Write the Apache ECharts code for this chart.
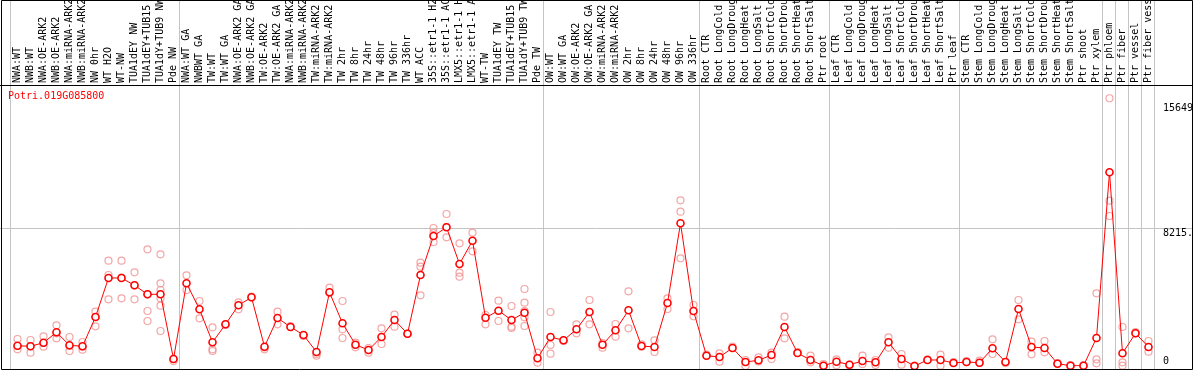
<!DOCTYPE html>
<html><head><meta charset="utf-8">
<script src="https://cdn.jsdelivr.net/npm/echarts@6/dist/echarts.min.js"></script>
<style>html,body{margin:0;padding:0;background:#fff}#c{width:1194px;height:370px}</style>
</head><body><div id="c"></div>
<script>
const geneName = 'Potri.019G085800';
const categories = [
 'NWA:WT','NWB:WT','NWA:OE-ARK2','NWB:OE-ARK2','NWA:miRNA-ARK2','NWB:miRNA-ARK2','NW 0hr','WT H2O','WT-NW','TUA1dEY NW','TUA1dEY+TUB15 NW','TUA1dY+TUB9 NW','Pde NW',
 'NWA:WT GA','NWBWT GA','TW:WT','TW:WT GA','NWA:OE-ARK2 GA','NWB:OE-ARK2 GA','TW:OE-ARK2','TW:OE-ARK2 GA','NWA:miRNA-ARK2 GA','NWB:miRNA-ARK2 GA','TW:miRNA-ARK2','TW:miRNA-ARK2 GA',
 'TW 2hr','TW 8hr','TW 24hr','TW 48hr','TW 96hr','TW 336hr','WT ACC','35S::etr1-1 H2O','35S::etr1-1 ACC','LMX5::etr1-1 H2O','LMX5::etr1-1 ACC','WT-TW','TUA1dEY TW','TUA1dEY+TUB15 TW','TUA1dY+TUB9 TW','Pde TW',
 'OW:WT','OW:WT GA','OW:OE-ARK2','OW:OE-ARK2 GA','OW:miRNA-ARK2','OW:miRNA-ARK2 GA','OW 2hr','OW 8hr','OW 24hr','OW 48hr','OW 96hr','OW 336hr',
 'Root CTR','Root LongCold','Root LongDrought','Root LongHeat','Root LongSalt','Root ShortCold','Root ShortDrought','Root ShortHeat','Root ShortSalt','Ptr root',
 'Leaf CTR','Leaf LongCold','Leaf LongDrought','Leaf LongHeat','Leaf LongSalt','Leaf ShortCold','Leaf ShortDrought','Leaf ShortHeat','Leaf ShortSalt','Ptr leaf',
 'Stem CTR','Stem LongCold','Stem LongDrought','Stem LongHeat','Stem LongSalt','Stem ShortCold','Stem ShortDrought','Stem ShortHeat','Stem ShortSalt','Ptr shoot','Ptr xylem',
 'Ptr phloem','Ptr fiber','Ptr vessel','Ptr fiber vessel'
];
const meanValues = [
 1210,1175,1390,2011,1235,1175,2924,5251,5251,4815,
 4278,4278,418,4935,3383,1414,2488,3622,4099,1152,
 2864,2327,1850,835,4398,2548,1271,955,1730,2745,
 1927,5430,7757,8276,6086,7477,2882,3300,2745,3180,
 459,1730,1534,2190,3222,1271,2130,3324,1193,1134,
 3759,8515,3282,615,537,1074,239,340,656,2327,
 776,358,18,257,78,298,221,1414,418,0,
 358,358,179,239,197,1056,239,3401,1134,1074,
 137,18,18,1671,11558,758,1951,1134
];
const replicateValues = [
 [1611,997,1193],[1551,794,1193],[1772,1152,1372],[2429,1653,1951],[1730,895,1193],[1432,973,1152],[3240,2369,2924],[6283,5430,3980],[6283,5269,4040],[5591,3980,4815],
 [6963,3282,2685,4278],[6665,4935,4535,4040,3598,2088],[418,298],[5412,4535],[3879,2846],[2309,997,895],[2488,2446],[3801,3383],[4099,4147],[997,1104],
 [3240,2488],[2327,2387],[1850,1790],[615,716],[4672,4356],[3879,2190,1671],[1390,1116],[1074,794],[2250,1313],[3061,2345],
 [1927,1909],[6164,5925,4219],[8235,7399,7936],[9070,7680,8295],[7322,5567,5329],[7954,6844],[3043,2488],[3896,2685],[3580,2345,2267],[4595,3777,3282,2906,2387],
 [794,197],[3222,1253,734],[1534,1492],[2488,1951],[3938,2488],[1372,1092],[2506,1748],[4457,2250],[1295,1152],[1534,835],
 [4040,3401],[9887,9207,6426],[3640,2966],[615,686],[758,257],[1074,1164],[358,0],[519,269],[794,418],[2942,1653],
 [776,835],[615,221],[18,119],[400,42],[78,30],[615,119],[358,60],[1713,1092],[716,78],[0,18],
 [358,400],[674,18],[179,239],[239,298],[316,179],[1593,716],[239,179],[3938,2787],[1450,698],[1492,817],
 [137,179],[18,60],[18,42],[4338,400,161],[15974,9863,8951],[2327,221,18],[1951,2029],[1492,853]
];
const groupEnds = [13,41,53,63,73,84,85,86,87,88];
const yTickValues = [0, 8215, 15649];
const yTickLabels = ['0', '8215.', '15649'];
const gridLineValue = 8215;
const yMax = 16706;

const labelFor = v => yTickLabels[yTickValues.indexOf(v)];
const scatterData = replicateValues.flatMap((arr, i) => arr.map(v => [i, v]));
const mono = 'DejaVu Sans Mono';

const chart = echarts.init(document.getElementById('c'), null, {renderer: 'canvas'});
const option = {
  animation: false,
  backgroundColor: '#fff',
  title: {text: geneName, left: 8, top: 91, padding: 0, textStyle: {color: '#ff0000', fontSize: 10, fontFamily: mono, fontWeight: 'normal'}},
  grid: {left: 11, right: 39, top: 86, bottom: 4, containLabel: false, outerBoundsMode: 'none'},
  xAxis: {
    type: 'category', data: categories, position: 'top', boundaryGap: true,
    axisLine: {show: false}, axisTick: {show: false}, splitLine: {show: false},
    axisLabel: {interval: 0, rotate: 90, margin: 3, fontSize: 10, fontFamily: mono, color: '#000', hideOverlap: false}
  },
  yAxis: [
    {type: 'value', min: 0, max: yMax, position: 'right', axisLine: {show: false}, axisTick: {show: false}, splitLine: {show: false},
     axisLabel: {customValues: yTickValues.slice(1), formatter: labelFor, margin: 8, verticalAlign: 'top', fontSize: 10, fontFamily: mono, color: '#000'}},
    {type: 'value', min: 0, max: yMax, position: 'right', axisLine: {show: false}, axisTick: {show: false}, splitLine: {show: false},
     axisLabel: {customValues: yTickValues.slice(0, 1), formatter: labelFor, margin: 8, verticalAlign: 'bottom', fontSize: 10, fontFamily: mono, color: '#000'}}
  ],
  series: [
    {type: 'scatter', data: scatterData, symbol: 'circle', symbolSize: 7, clip: false,
     itemStyle: {color: 'rgba(0,0,0,0)', borderColor: '#f09090', borderWidth: 1.2}, z: 2},
    {type: 'line', data: meanValues, symbol: 'circle', symbolSize: 7, showAllSymbol: true,
     lineStyle: {color: '#ff0000', width: 1},
     itemStyle: {color: '#ffffff', borderColor: '#ff0000', borderWidth: 1.6}, z: 3}
  ]
};
chart.setOption(option);

const cx = i => chart.convertToPixel({xAxisIndex: 0}, i);
const half = (cx(1) - cx(0)) / 2;
const bounds = [cx(0) - half].concat(groupEnds.map(e => cx(e - 1) + half));
const gy = Math.floor(chart.convertToPixel({yAxisIndex: 0}, gridLineValue)) + 0.5;
const graphics = bounds.map(b => ({
  type: 'line', silent: true, z: -1,
  shape: {x1: Math.round(b) - 0.5, y1: 0, x2: Math.round(b) - 0.5, y2: 370},
  style: {stroke: '#c4c4c4', lineWidth: 1}
}));
graphics.push({type: 'line', silent: true, z: -1, shape: {x1: 0, y1: gy, x2: 1193, y2: gy}, style: {stroke: '#c4c4c4', lineWidth: 1}});
graphics.push({type: 'line', silent: true, z: 10, shape: {x1: 0, y1: 85.5, x2: 1193, y2: 85.5}, style: {stroke: '#000', lineWidth: 1}});
graphics.push({type: 'rect', silent: true, z: 10, shape: {x: 1.5, y: 0.5, width: 1191, height: 369}, style: {fill: 'none', stroke: '#000', lineWidth: 1}});
chart.setOption({graphic: graphics});
</script>
</body></html>
